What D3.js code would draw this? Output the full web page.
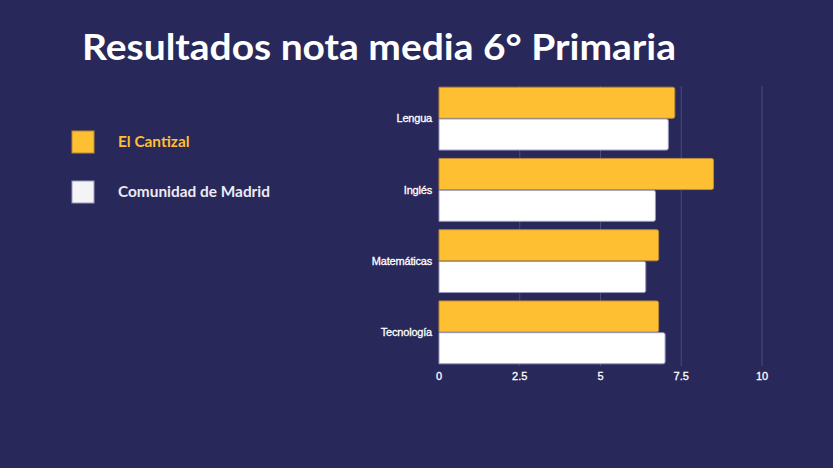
<!DOCTYPE html>
<html>
<head>
<meta charset="utf-8">
<script src="https://cdn.jsdelivr.net/npm/d3@7"></script>
<style>
  html, body { margin: 0; padding: 0; background: #29285a; }
  svg { display: block; }
</style>
</head>
<body>
<div id="chart"></div>
<script>
// data
var subjects = ["Lengua", "Inglés", "Matemáticas", "Tecnología"];
var seriesNames = ["El Cantizal", "Comunidad de Madrid"];
var cantizal = [7.3, 8.5, 6.8, 6.8];
var madrid = [7.1, 6.7, 6.4, 7.0];
var xTicks = [0, 2.5, 5, 7.5, 10];

var width = 833, height = 468;
var colors = ["#ffbf33", "#ffffff"];
var strokes = ["#b98a35", "#9a99bd"];

var svg = d3.select("#chart").append("svg")
    .attr("width", width)
    .attr("height", height);

svg.append("rect")
    .attr("width", width)
    .attr("height", height)
    .attr("fill", "#29285a");

// title
svg.append("text")
    .attr("x", 82)
    .attr("y", 60)
    .attr("fill", "#ffffff")
    .style("font-family", "Lato, 'Noto Sans', sans-serif")
    .style("font-weight", "bold")
    .style("font-size", "36px")
    .attr("textLength", 594)
    .attr("lengthAdjust", "spacingAndGlyphs")
    .text("Resultados nota media 6° Primaria");

// scales
var x = d3.scaleLinear().domain([0, 10]).range([439, 762]);
var y = d3.scaleBand().domain(subjects).range([83, 368]).paddingInner(0.1).paddingOuter(0.05);
var ySub = d3.scaleBand().domain([0, 1]).range([0, y.bandwidth()]).padding(0.02);

// grid
svg.append("g")
    .selectAll("line")
    .data(xTicks.slice(1))
    .enter().append("line")
    .attr("x1", d => x(d)).attr("x2", d => x(d))
    .attr("y1", 86).attr("y2", 366)
    .attr("stroke", "#4b4a7a")
    .attr("stroke-width", 1);

// bars
var rows = subjects.map((s, i) => ({ subject: s, values: [cantizal[i], madrid[i]] }));

var groups = svg.append("g").selectAll("g")
    .data(rows)
    .enter().append("g")
    .attr("transform", d => "translate(0," + y(d.subject) + ")");

groups.selectAll("path")
    .data(d => d.values.map((v, k) => ({ v: v, k: k })))
    .enter().append("path")
    .attr("d", d => {
        var x0 = x(0), x1 = x(d.v), y0 = ySub(d.k), h = ySub.bandwidth(), r = 2;
        return "M" + x0 + "," + y0 + "H" + (x1 - r) + "Q" + x1 + "," + y0 + " " + x1 + "," + (y0 + r) +
            "V" + (y0 + h - r) + "Q" + x1 + "," + (y0 + h) + " " + (x1 - r) + "," + (y0 + h) + "H" + x0 + "Z";
    })
    .attr("fill", d => colors[d.k])
    .attr("stroke", d => strokes[d.k])
    .attr("stroke-width", 1);

// x axis labels
svg.append("g")
    .selectAll("text")
    .data(xTicks)
    .enter().append("text")
    .attr("x", d => x(d))
    .attr("y", 380)
    .attr("text-anchor", "middle")
    .attr("fill", "#ffffff")
    .style("font-family", "'Liberation Sans', Arial, sans-serif")
    .style("font-size", "11px")
    .style("stroke", "#ffffff")
    .style("stroke-width", "0.3px")
    .text(d => d);

// y labels
svg.append("g")
    .selectAll("text")
    .data(subjects)
    .enter().append("text")
    .attr("x", 432)
    .attr("y", d => y(d) + y.bandwidth() / 2)
    .attr("dy", "0.35em")
    .attr("text-anchor", "end")
    .attr("fill", "#ffffff")
    .style("font-family", "'Liberation Sans', Arial, sans-serif")
    .style("font-size", "11px")
    .style("letter-spacing", "-0.2px")
    .style("stroke", "#ffffff")
    .style("stroke-width", "0.3px")
    .text(d => d);

// legend
var legend = svg.append("g").selectAll("g")
    .data(seriesNames)
    .enter().append("g")
    .attr("transform", (d, i) => "translate(72," + (131 + i * 50) + ")");

legend.append("rect")
    .attr("width", 22).attr("height", 22)
    .attr("fill", (d, i) => i == 0 ? "#ffbf33" : "#f4f4f6")
    .attr("stroke", (d, i) => i == 0 ? "#b98a35" : "#9a99bd")
    .attr("stroke-width", 1);

legend.append("text")
    .attr("x", 46)
    .attr("y", 11)
    .attr("dy", "0.35em")
    .attr("fill", (d, i) => i == 0 ? "#ffbf33" : "#ecebf3")
    .style("font-family", "Lato, 'Noto Sans', sans-serif")
    .style("font-weight", "bold")
    .style("font-size", "15.4px")
    .text(d => d);
</script>
</body>
</html>
